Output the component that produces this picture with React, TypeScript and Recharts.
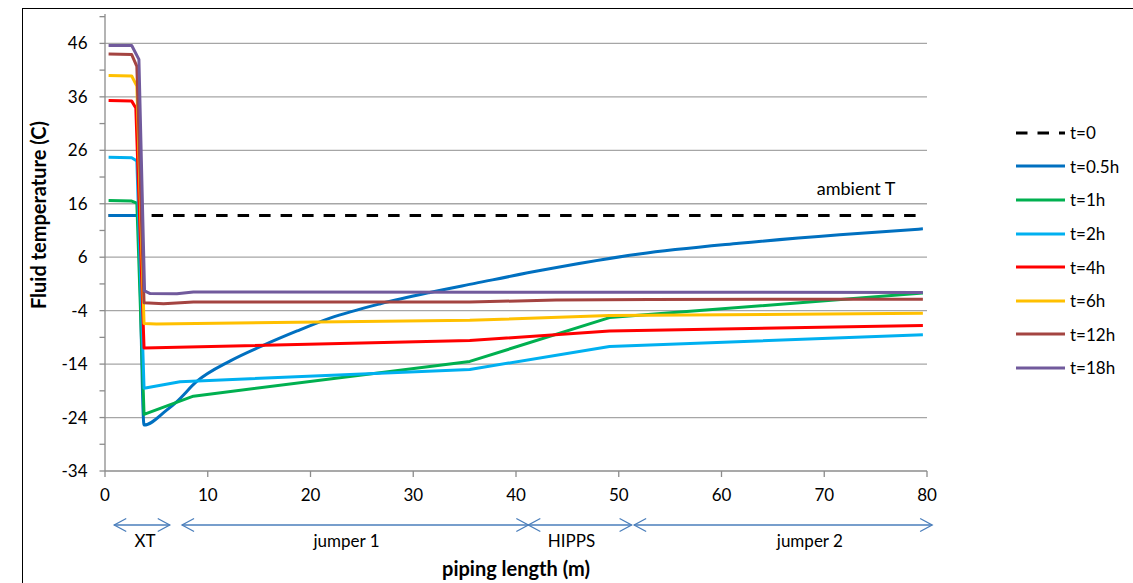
import React from 'react';
import {
  LineChart,
  Line,
  XAxis,
  YAxis,
  CartesianGrid,
  Legend,
  Label,
  ReferenceLine,
  ReferenceDot,
} from 'recharts';

type Pt = [number, number];

// axis ticks
const xTicks = [0, 10, 20, 30, 40, 50, 60, 70, 80];
const yMajorTicks = [-34, -24, -14, -4, 6, 16, 26, 36, 46];
const yAllTicks = [-34, -29, -24, -19, -14, -9, -4, 1, 6, 11, 16, 21, 26, 31, 36, 41, 46, 51];

// [piping length (m), fluid temperature (C)]
const t0: Pt[] = [[0.35, 13.8], [79.6, 13.8]];
const t05h: Pt[] = [
  [0.35, 13.8], [3.2, 13.8], [3.8, -25.4], [6, -22.6], [7, -21.0], [8.9, -17.3],
  [12.2, -13.4], [15.4, -10.5], [18.7, -7.8], [21.9, -5.4], [26.8, -2.7], [31.6, -0.6],
  [36, 1.1], [42.6, 3.6], [52, 6.6], [61.7, 8.6], [71.5, 10.2], [79.6, 11.3],
];
const t1h: Pt[] = [
  [0.35, 16.6], [2.6, 16.5], [3.1, 16.1], [3.8, -23.4], [8.6, -20.0],
  [35.5, -13.5], [49.1, -5.3], [79.6, -0.7],
];
const t2h: Pt[] = [
  [0.35, 24.7], [2.6, 24.6], [3.1, 24.0], [3.8, -18.5], [7.3, -17.3],
  [35.5, -15.0], [49.1, -10.7], [79.6, -8.5],
];
const t4h: Pt[] = [
  [0.35, 35.3], [2.6, 35.2], [3.0, 33.9], [3.8, -11.0], [35.5, -9.6],
  [49.1, -7.8], [79.6, -6.8],
];
const t6h: Pt[] = [
  [0.35, 40.0], [2.6, 39.9], [3.1, 38.0], [3.8, -6.4], [5, -6.5],
  [35.5, -5.8], [49.1, -4.9], [79.6, -4.5],
];
const t12h: Pt[] = [
  [0.35, 44.0], [2.6, 43.9], [3.1, 41.7], [3.8, -2.5], [5.7, -2.7], [8.6, -2.4],
  [35.5, -2.4], [43.9, -2.0], [53, -1.9], [79.6, -1.85],
];
const t18h: Pt[] = [
  [0.35, 45.6], [2.6, 45.6], [3.3, 43.0], [3.85, -0.3], [4.4, -0.8], [7, -0.85],
  [8.6, -0.5], [79.6, -0.6],
];

const series = [
  { name: 't=0', pts: t0, color: '#000000', dash: '11.5 10' },
  { name: 't=0.5h', pts: t05h, color: '#0070C0', smooth: true },
  { name: 't=1h', pts: t1h, color: '#00B050' },
  { name: 't=2h', pts: t2h, color: '#00B0F0' },
  { name: 't=4h', pts: t4h, color: '#FF0000' },
  { name: 't=6h', pts: t6h, color: '#FFC000' },
  { name: 't=12h', pts: t12h, color: '#A44441' },
  { name: 't=18h', pts: t18h, color: '#715A9C' },
];

// piping sections drawn under the x axis
const sections = [
  { label: 'XT', from: 0.9, to: 6.3, labelAt: 3.9 },
  { label: 'jumper 1', from: 7.5, to: 41.2, labelAt: 23.5 },
  { label: 'HIPPS', from: 41.2, to: 51.25, labelAt: 45.4 },
  { label: 'jumper 2', from: 51.5, to: 80.5, labelAt: 68.6 },
];
const sectionLevel = -44.1;

const FONT = 'Lato, "Open Sans", sans-serif';
const GRID = '#a6a6a6';
const AXIS = '#8c8c8c';
const ARROW = '#4a7ebb';

const YTick = (props: any) => {
  const { x, y, payload } = props;
  if (!yMajorTicks.includes(payload.value)) return <g />;
  return (
    <text x={x} y={y} dy="0.355em" textAnchor="end" fontSize={17} fill="#000" fontFamily={FONT}>
      {payload.value}
    </text>
  );
};

const sectionShape = (sec: typeof sections[number]) => (props: any) => {
  const { x1, y1, x2 } = props;
  const h = 12;
  const v = 6.5;
  const lx = x1 + ((sec.labelAt - sec.from) * (x2 - x1)) / (sec.to - sec.from);
  return (
    <g>
      <line x1={x1} y1={y1} x2={x2} y2={y1} stroke={ARROW} strokeWidth={1.3} />
      <polyline points={`${x1 + h},${y1 - v} ${x1},${y1} ${x1 + h},${y1 + v}`} fill="none" stroke={ARROW} strokeWidth={1.3} />
      <polyline points={`${x2 - h},${y1 - v} ${x2},${y1} ${x2 - h},${y1 + v}`} fill="none" stroke={ARROW} strokeWidth={1.3} />
      <text x={lx} y={y1 + 16} textAnchor="middle" dominantBaseline="central" fontSize={17} fill="#000" fontFamily={FONT}>
        {sec.label}
      </text>
    </g>
  );
};

const renderLegend = (props: any) => {
  const order = series.map((s) => s.name);
  const payload = [...(props.payload || [])].sort(
    (a: any, b: any) => order.indexOf(a.value) - order.indexOf(b.value),
  );
  return (
    <div style={{ fontFamily: FONT, fontSize: 17, color: '#000' }}>
      {payload.map((entry: any) => {
        const s = series.find((d) => d.name === entry.value);
        return (
          <div key={entry.value} style={{ height: 33.6, display: 'flex', alignItems: 'center' }}>
            <svg width={52} height={10}>
              <line x1={0} y1={5} x2={49} y2={5} stroke={entry.color} strokeWidth={3} strokeDasharray={s?.dash} />
            </svg>
            <span style={{ marginLeft: 2 }}>{entry.value}</span>
          </div>
        );
      })}
    </div>
  );
};

export default function App() {
  return (
    <div style={{ position: 'absolute', left: 0, top: 0, width: 1133, height: 583, overflow: 'hidden', background: '#fff' }}>
      <div style={{ position: 'absolute', left: 22, top: 8, width: 1200, height: 700, border: '1.5px solid #000' }} />
      <LineChart
        width={1133}
        height={583}
        margin={{ top: 14, right: 206, bottom: 82, left: 20 }}
        style={{ fontFamily: FONT }}
      >
        <CartesianGrid
          vertical={false}
          horizontalValues={yMajorTicks.filter((v) => v > -34)}
          stroke={GRID}
          strokeWidth={1.3}
        />
        <XAxis
          dataKey="x"
          type="number"
          domain={[0, 80]}
          ticks={xTicks}
          interval={0}
          height={30}
          tickSize={6}
          tickMargin={12}
          axisLine={{ stroke: AXIS, strokeWidth: 1.3 }}
          tickLine={{ stroke: AXIS, strokeWidth: 1.3 }}
          tick={{ fill: '#000', fontSize: 17, fontFamily: FONT }}
        >
          <Label
            content={({ viewBox }: any) => (
              <text
                x={viewBox.x + viewBox.width / 2}
                y={viewBox.y + 97}
                textAnchor="middle"
                dominantBaseline="central"
                fontSize={20}
                fontWeight="bold"
                fill="#000"
                fontFamily={FONT}
              >
                piping length (m)
              </text>
            )}
          />
        </XAxis>
        <YAxis
          type="number"
          domain={[-34, 51.5]}
          ticks={yAllTicks}
          interval={0}
          width={85}
          tickSize={5.5}
          tickMargin={12}
          axisLine={{ stroke: AXIS, strokeWidth: 1.3 }}
          tickLine={{ stroke: AXIS, strokeWidth: 1.3 }}
          tick={<YTick />}
        >
          <Label
            content={({ viewBox }: any) => {
              const cx = viewBox.x + 18;
              const cy = viewBox.y + 201;
              return (
                <text
                  x={cx}
                  y={cy}
                  transform={`rotate(-90 ${cx} ${cy})`}
                  textAnchor="middle"
                  dominantBaseline="central"
                  fontSize={20}
                  fontWeight="bold"
                  fill="#000"
                  fontFamily={FONT}
                >
                  Fluid temperature (C)
                </text>
              );
            }}
          />
        </YAxis>
        <Legend
          layout="vertical"
          align="center"
          verticalAlign="middle"
          content={renderLegend}
          wrapperStyle={{ position: 'absolute', left: 1016, top: 116, width: 117 }}
        />
        {series.map((s) => (
          <Line
            key={s.name}
            name={s.name}
            data={s.pts.map(([x, y]) => ({ x, y }))}
            dataKey="y"
            type={s.smooth ? 'monotone' : 'linear'}
            stroke={s.color}
            strokeWidth={3}
            strokeDasharray={s.dash}
            strokeLinejoin="round"
            dot={false}
            activeDot={false}
            isAnimationActive={false}
          />
        ))}
        <ReferenceDot
          x={73.1}
          y={18.9}
          r={0}
          fill="none"
          stroke="none"
          label={{ value: 'ambient T', position: 'center', fontSize: 18, fill: '#000', fontFamily: FONT }}
        />
        {sections.map((sec) => (
          <ReferenceLine
            key={sec.label}
            segment={[{ x: sec.from, y: sectionLevel }, { x: sec.to, y: sectionLevel }]}
            ifOverflow="visible"
            shape={sectionShape(sec)}
          />
        ))}
      </LineChart>
    </div>
  );
}
